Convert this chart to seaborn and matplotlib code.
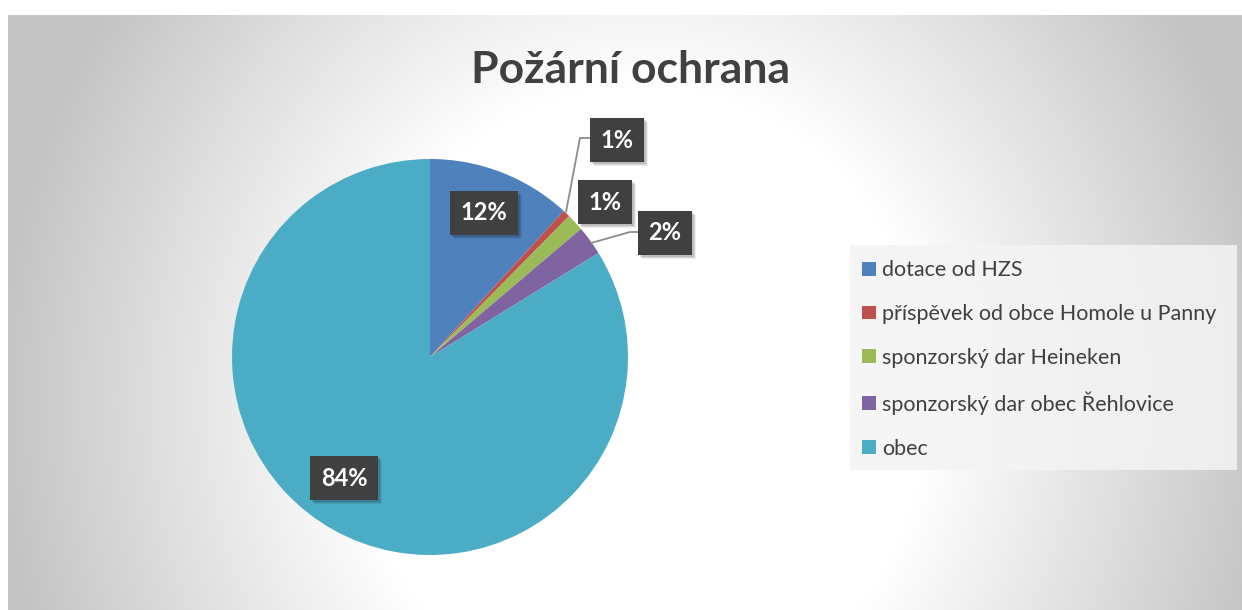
import numpy as np
import matplotlib
matplotlib.use("Agg")
import matplotlib.pyplot as plt
import matplotlib.patches as mpatches
import matplotlib.transforms as mtransforms
import seaborn as sns

categories = ["dotace od HZS", "příspěvek od obce Homole u Panny",
              "sponzorský dar Heineken", "sponzorský dar obec Řehlovice", "obec"]
values = [11.8, 0.6, 1.4, 2.4, 83.8]
colors = ["#4F81BD", "#C0504D", "#9BBB59", "#8064A2", "#4BACC6"]
title = "Požární ochrana"

sns.set_theme(style="white")
plt.rcParams["font.family"] = ["Lato", "DejaVu Sans"]
palette = sns.color_palette(colors)

W, H = 1242, 610
fig = plt.figure(figsize=(W / 100, H / 100), dpi=100)
fig.patch.set_facecolor("white")

# background with radial gradient
bg = fig.add_axes([8 / W, 0, (W - 8) / W, (H - 15) / H])
bg.set_axis_off()
yy, xx = np.mgrid[0:595, 0:1234]
cx, cy = 632, 385
d = np.sqrt(((xx - cx) / 640.0) ** 2 + ((yy - cy) / 700.0) ** 2)
v = 1.0 - 0.23 * np.clip((d - 0.45) / 0.55, 0, 1)
img = np.dstack([v, v, v])
bg.imshow(img, aspect="auto", extent=[0, 1234, 595, 0])
bg.set_xlim(0, 1234)
bg.set_ylim(595, 0)

# legend background box (pixel coords of bg axes: x-8, y-15)
bg.add_patch(mpatches.Rectangle((850 - 8, 245 - 15), 387, 225,
                                facecolor="#f4f4f4", edgecolor="none", alpha=0.85))

# pie axes
cxp, cyp, R = 430, 357, 198
ax = fig.add_axes([(cxp - 200) / W, (H - cyp - 200) / H, 400 / W, 400 / H])
wedges, _ = ax.pie(values, colors=palette, startangle=90, counterclock=False,
                   radius=1.0, wedgeprops=dict(linewidth=0))
ax.set_aspect("equal")
ax.set_xlim(-200 / R, 200 / R)
ax.set_ylim(-200 / R, 200 / R)
ax.set_axis_off()

def px(x, y):
    return ((x - cxp) / R, (cyp - y) / R)

total = sum(values)
labels = [f"{val / total * 100:.0f}%" for val in values]
label_pos = [(484, 213), (617, 140), (605, 202), (665, 233), (344, 478)]
box = dict(boxstyle="square,pad=0.45", facecolor="#404040", edgecolor="none")
texts = []
for lab, (x, y) in zip(labels, label_pos):
    t = ax.text(*px(x, y), lab, ha="center", va="center", color="white",
                fontsize=17, fontweight="bold", bbox=box, zorder=6)
    texts.append(t)

# leader lines
for pts in ([(566, 212), (580, 138), (592, 138)],
            [(591, 243), (630, 232), (640, 232)]):
    xs, ys = zip(*[px(a, b) for a, b in pts])
    ax.plot(xs, ys, color="#8c8c8c", lw=1.3, zorder=4, clip_on=False)

fig.text(631 / W, 1 - 70 / H, title, ha="center", va="center",
         fontsize=32, fontweight="bold", color="#404040")

handles = [mpatches.Patch(facecolor=c, edgecolor="none") for c in palette]
leg = fig.legend(handles, categories, loc="upper left",
                 bbox_to_anchor=(843 / W, 1 - 241 / H), frameon=False,
                 fontsize=15.5, labelcolor="#404040", handlelength=0.62,
                 handleheight=0.62, handletextpad=0.3, labelspacing=1.1)

# soft shadows behind the label boxes
fig.canvas.draw()
ident = mtransforms.IdentityTransform()
for t in texts:
    ext = t.get_bbox_patch().get_window_extent()
    for k, a in ((4, 0.07), (3, 0.09), (2, 0.12)):
        sh = mpatches.Rectangle((ext.x0 + k, ext.y0 - k), ext.width, ext.height,
                                transform=ident, facecolor="black", edgecolor="none",
                                alpha=a, zorder=4.5, clip_on=False)
        ax.add_artist(sh)

fig.savefig("out.png", dpi=100)
